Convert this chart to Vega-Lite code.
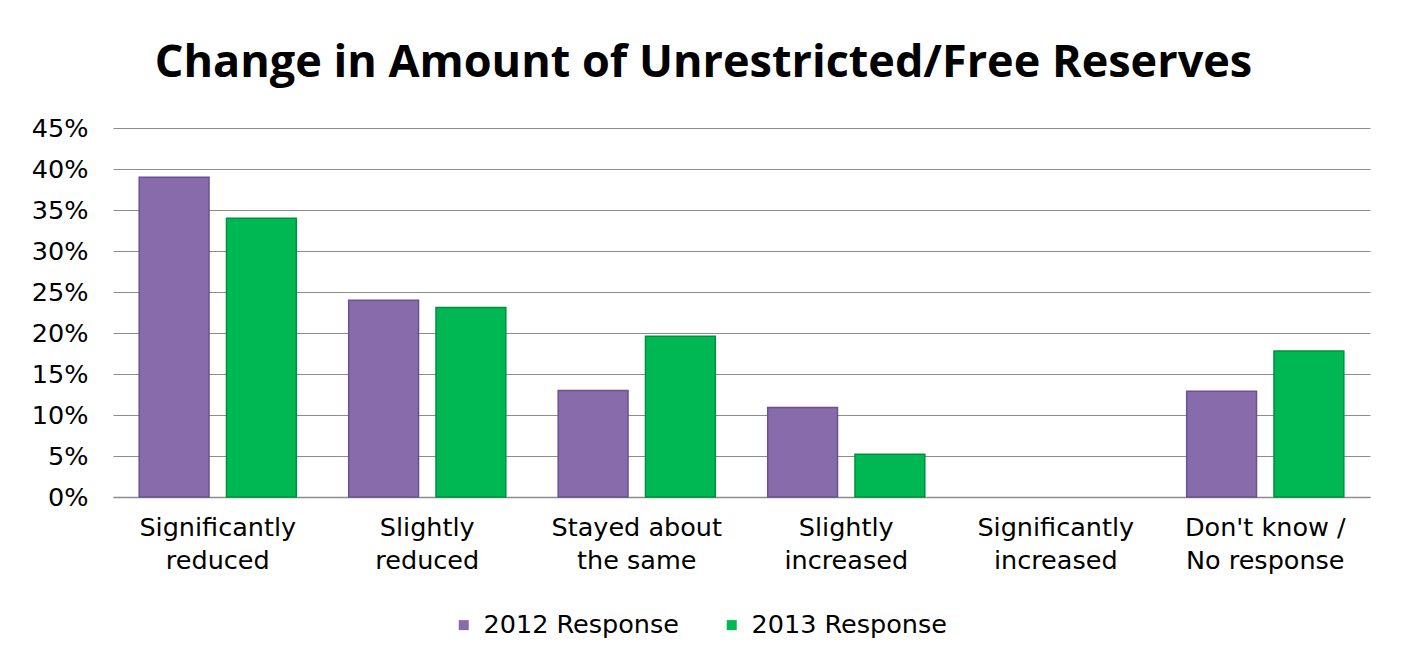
{
  "$schema": "https://vega.github.io/schema/vega-lite/v6.json",
  "width": 1257,
  "height": 369,
  "autosize": {"type": "none"},
  "padding": {"left": 113, "top": 128, "right": 31, "bottom": 165},
  "background": "white",
  "title": {
    "text": "Change in Amount of Unrestricted/Free Reserves",
    "font": "Open Sans",
    "fontSize": 45,
    "fontWeight": "bold",
    "color": "#000000",
    "anchor": "middle",
    "dx": -38,
    "offset": 30
  },
  "data": {
    "values": [
      {"category": "Significantly reduced", "series": "2012 Response", "value": 0.39},
      {"category": "Significantly reduced", "series": "2013 Response", "value": 0.34},
      {"category": "Slightly reduced", "series": "2012 Response", "value": 0.24},
      {"category": "Slightly reduced", "series": "2013 Response", "value": 0.231},
      {"category": "Stayed about the same", "series": "2012 Response", "value": 0.13},
      {"category": "Stayed about the same", "series": "2013 Response", "value": 0.196},
      {"category": "Slightly increased", "series": "2012 Response", "value": 0.109},
      {"category": "Slightly increased", "series": "2013 Response", "value": 0.052},
      {"category": "Significantly increased", "series": "2012 Response", "value": 0},
      {"category": "Significantly increased", "series": "2013 Response", "value": 0},
      {"category": "Don't know / No response", "series": "2012 Response", "value": 0.129},
      {"category": "Don't know / No response", "series": "2013 Response", "value": 0.178}
    ]
  },
  "mark": {"type": "bar", "strokeWidth": 1.5},
  "encoding": {
    "x": {
      "field": "category",
      "type": "nominal",
      "sort": null,
      "title": null,
      "scale": {"paddingInner": 0.25, "paddingOuter": 0.125},
      "axis": {
        "labelAngle": 0,
        "labelFont": "DejaVu Sans",
        "labelFontSize": 25.5,
        "labelColor": "#000000",
        "labelLineHeight": 33,
        "labelPadding": 18,
        "labelBaseline": "top",
        "labelLimit": 0,
        "ticks": false,
        "domainColor": "#8c8c8c",
        "domainWidth": 1.5,
        "labelExpr": "datum.value == 'Stayed about the same' ? ['Stayed about', 'the same'] : datum.value == \"Don't know / No response\" ? [\"Don't know /\", 'No response'] : split(datum.value, ' ')"
      }
    },
    "xOffset": {
      "field": "series",
      "type": "nominal",
      "scale": {"paddingInner": 0.2}
    },
    "y": {
      "field": "value",
      "type": "quantitative",
      "title": null,
      "scale": {"domain": [0, 0.45], "nice": false},
      "axis": {
        "values": [0, 0.05, 0.1, 0.15, 0.2, 0.25, 0.3, 0.35, 0.4, 0.45],
        "format": ".0%",
        "labelFont": "DejaVu Sans",
        "labelFontSize": 25.5,
        "labelColor": "#000000",
        "labelPadding": 25,
        "ticks": false,
        "domain": false,
        "gridColor": "#8c8c8c",
        "gridWidth": 1.2
      }
    },
    "color": {
      "field": "series",
      "type": "nominal",
      "title": null,
      "scale": {"domain": ["2012 Response", "2013 Response"], "range": ["#876BAA", "#00B853"]},
      "legend": {
        "orient": "none",
        "legendX": 338,
        "legendY": 484,
        "direction": "horizontal",
        "symbolType": "square",
        "symbolSize": 100,
        "symbolStrokeWidth": 0,
        "symbolOffset": 0,
        "labelOffset": 7,
        "labelLimit": 0,
        "labelFont": "DejaVu Sans",
        "labelFontSize": 25.5,
        "labelColor": "#000000",
        "columnPadding": 40
      }
    },
    "stroke": {
      "field": "series",
      "type": "nominal",
      "scale": {"domain": ["2012 Response", "2013 Response"], "range": ["#6a5290", "#00913f"]},
      "legend": null
    },
    "strokeOpacity": {
      "condition": {"test": "datum.value == 0", "value": 0},
      "value": 1
    }
  },
  "config": {"view": {"stroke": null}}
}
